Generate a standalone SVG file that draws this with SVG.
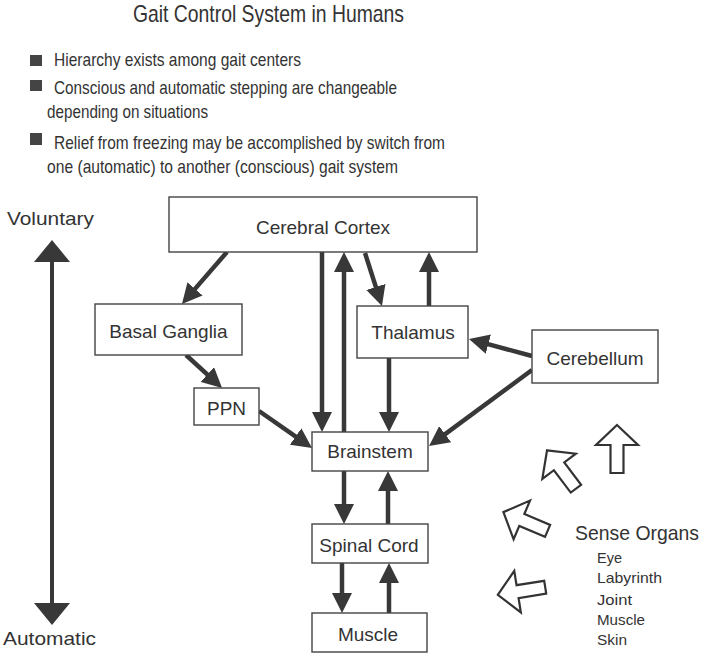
<svg xmlns="http://www.w3.org/2000/svg" width="708" height="656" viewBox="0 0 708 656">
<style>
.box{fill:#fff;stroke:#444;stroke-width:1.4}
.nt{font-family:"Liberation Sans",Arial,sans-serif;font-size:19px;fill:#333;text-anchor:middle}
.gt{font-family:"Liberation Sans",Arial,sans-serif;fill:#333}
.ar{stroke:#383838;stroke-width:4.5;fill:none;marker-end:url(#ah)}
.ho{fill:#fff;stroke:#333;stroke-width:2.2;stroke-linejoin:miter}
</style>
<defs>
<marker id="ah" markerUnits="userSpaceOnUse" viewBox="0 0 20 20" markerWidth="20" markerHeight="20" refX="8" refY="10" orient="auto">
<path d="M0,0 L20,10 L0,20 Z" fill="#383838"/>
</marker>
<marker id="bh" markerUnits="userSpaceOnUse" viewBox="0 0 22 36" markerWidth="22" markerHeight="36" refX="10" refY="18" orient="auto-start-reverse">
<path d="M0,0 L22,18 L0,36 Z" fill="#383838"/>
</marker>
<path id="hollow" d="M0,-24 L21,-4 L6.5,-4 L6.5,24 L-6.5,24 L-6.5,-4 L-21,-4 Z"/>
</defs>

<g id="header">
<text class="gt" x="133" y="22" font-size="24" textLength="271" lengthAdjust="spacingAndGlyphs">Gait Control System in Humans</text>
<rect x="30" y="55" width="12" height="11" fill="#444"/>
<rect x="30" y="80" width="12" height="11" fill="#444"/>
<rect x="30" y="133" width="12" height="12" fill="#444"/>
<text class="gt" x="54" y="66" font-size="19" textLength="247" lengthAdjust="spacingAndGlyphs">Hierarchy exists among gait centers</text>
<text class="gt" x="54" y="94" font-size="19" textLength="343" lengthAdjust="spacingAndGlyphs">Conscious and automatic stepping are changeable</text>
<text class="gt" x="47" y="118" font-size="19" textLength="161" lengthAdjust="spacingAndGlyphs">depending on situations</text>
<text class="gt" x="54" y="149" font-size="19" textLength="391" lengthAdjust="spacingAndGlyphs">Relief from freezing may be accomplished by switch from</text>
<text class="gt" x="47" y="173" font-size="19" textLength="351" lengthAdjust="spacingAndGlyphs">one (automatic) to another (conscious) gait system</text>
</g>

<g id="axis">
<text class="gt" x="7" y="225" font-size="19" textLength="87" lengthAdjust="spacingAndGlyphs">Voluntary</text>
<text class="gt" x="3" y="645" font-size="19" textLength="93" lengthAdjust="spacingAndGlyphs">Automatic</text>
<line x1="52" y1="252" x2="52" y2="613" stroke="#383838" stroke-width="4" marker-start="url(#bh)" marker-end="url(#bh)"/>
</g>

<g id="connectors">
<line class="ar" x1="227" y1="252" x2="189.8" y2="294.9"/>
<line class="ar" x1="322" y1="252" x2="322" y2="420"/>
<line class="ar" x1="344" y1="432" x2="344" y2="264"/>
<line class="ar" x1="365" y1="253" x2="378.3" y2="294.6"/>
<line class="ar" x1="429" y1="306" x2="429" y2="264"/>
<line class="ar" x1="532" y1="356" x2="480.6" y2="342.1"/>
<line class="ar" x1="532" y1="370" x2="438.7" y2="438.9"/>
<line class="ar" x1="389" y1="358" x2="389" y2="420"/>
<line class="ar" x1="186" y1="355" x2="213.2" y2="379.9"/>
<line class="ar" x1="259" y1="411" x2="302.2" y2="441.1"/>
<line class="ar" x1="344" y1="471" x2="344" y2="512"/>
<line class="ar" x1="388" y1="524" x2="388" y2="483"/>
<line class="ar" x1="342" y1="563" x2="342" y2="601"/>
<line class="ar" x1="389" y1="613" x2="389" y2="575"/>
</g>

<g id="cortex"><rect class="box" x="169" y="197" width="308" height="55"/><text class="nt" x="323" y="234" font-size="21.5">Cerebral Cortex</text></g>
<g id="basal-ganglia"><rect class="box" x="95" y="304" width="147" height="51"/><text class="nt" x="168.5" y="338">Basal Ganglia</text></g>
<g id="ppn"><rect class="box" x="194" y="388" width="65" height="37"/><text class="nt" x="226.5" y="415">PPN</text></g>
<g id="thalamus"><rect class="box" x="357" y="306" width="111" height="52"/><text class="nt" x="413" y="339">Thalamus</text></g>
<g id="cerebellum"><rect class="box" x="532" y="330" width="126" height="53"/><text class="nt" x="595" y="365">Cerebellum</text></g>
<g id="brainstem"><rect class="box" x="312" y="432" width="116" height="39"/><text class="nt" x="370" y="458">Brainstem</text></g>
<g id="spinal-cord"><rect class="box" x="312" y="524" width="116" height="39"/><text class="nt" x="369" y="552">Spinal Cord</text></g>
<g id="muscle"><rect class="box" x="312" y="613" width="115" height="39"/><text class="nt" x="368" y="641">Muscle</text></g>

<g id="sense-organs">
<use href="#hollow" class="ho" transform="translate(617,449)"/>
<use href="#hollow" class="ho" transform="translate(561.5,469.5) rotate(-37)"/>
<use href="#hollow" class="ho" transform="translate(525.5,521.5) rotate(-67)"/>
<use href="#hollow" class="ho" transform="translate(521.5,591) rotate(-99)"/>
<text class="gt" x="575" y="540" font-size="21" textLength="124" lengthAdjust="spacingAndGlyphs">Sense Organs</text>
<text class="gt" x="597" y="563" font-size="15" textLength="25" lengthAdjust="spacingAndGlyphs">Eye</text>
<text class="gt" x="597" y="583" font-size="15" textLength="65" lengthAdjust="spacingAndGlyphs">Labyrinth</text>
<text class="gt" x="597" y="605" font-size="15" textLength="35" lengthAdjust="spacingAndGlyphs">Joint</text>
<text class="gt" x="597" y="625" font-size="15" textLength="48" lengthAdjust="spacingAndGlyphs">Muscle</text>
<text class="gt" x="597" y="645" font-size="15" textLength="30" lengthAdjust="spacingAndGlyphs">Skin</text>
</g>
</svg>
